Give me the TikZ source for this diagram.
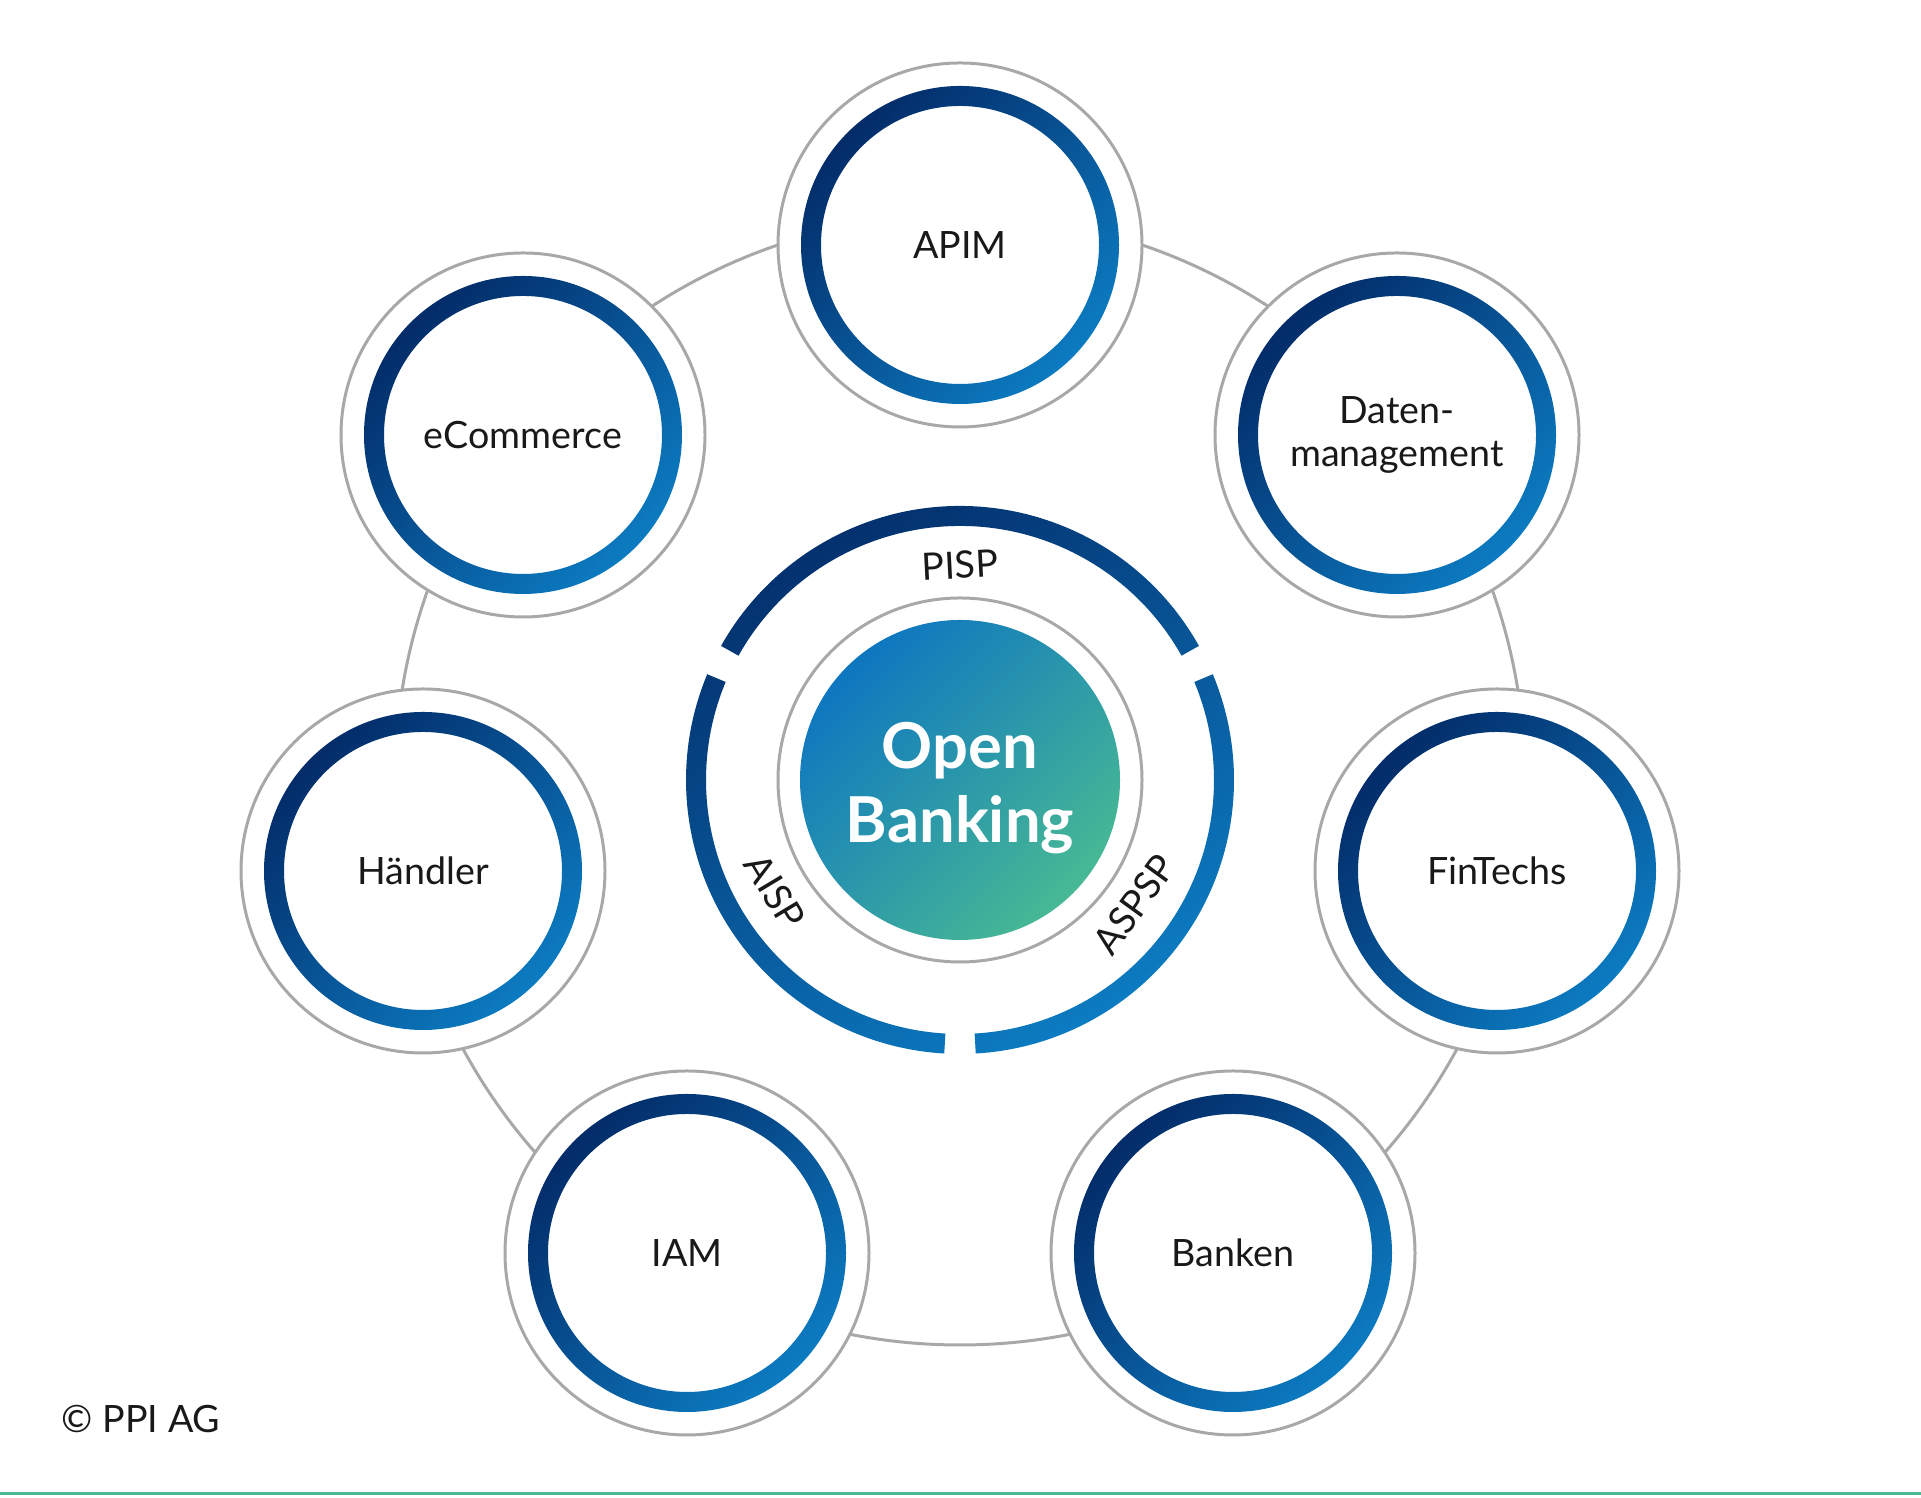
\documentclass[tikz,border=0pt]{standalone}
\usepackage{fontspec}
\setmainfont{Lato}
\usepackage{tikz}

\definecolor{ppinavy}{RGB}{3,44,105}
\definecolor{ppiblue}{RGB}{12,123,193}
\definecolor{obblue}{RGB}{14,118,192}
\definecolor{obgreen}{RGB}{72,185,148}
\definecolor{ringgray}{RGB}{168,168,168}

\tikzset{
	grayring/.style = {draw = ringgray, line width = 0.85pt},
	bluering/.style = {top color = ppinavy, bottom color = ppiblue, shading angle = 45, even odd rule},
	satlabel/.style = {font = \fontsize{10.7}{12.4}\selectfont, text = black!90, align = center},
	arclabel/.style = {satlabel, inner sep = 1pt},
}

\begin{document}
\begin{tikzpicture}[x = 0.01cm, y = 0.01cm]
\useasboundingbox (0,0) rectangle (1921,1498);
\coordinate (mid) at (960,718);

% outer gray orbit
\draw[grayring] (mid) circle (565);

\foreach \nm/\x/\y/\lbl in {apim/960/1253/APIM, daten/1397/1063/{Daten-\\management}, fintechs/1497/627/FinTechs, banken/1233/245/Banken, iam/687/245/IAM, haendler/423/627/Händler, ecommerce/523/1063/eCommerce}
{
	\filldraw[grayring, fill = white] (\x,\y) circle (182);
	\shade[bluering] (\x,\y) circle (159) (\x,\y) circle (139);
	\node[satlabel] (\nm) at (\x,\y) {\lbl};
}

% center
\filldraw[grayring, fill = white] (mid) circle (182);
\shade[top color = obblue, bottom color = obgreen, shading angle = 45] (mid) circle (160);
\node[font = \fontsize{18}{21}\selectfont\bfseries, text = white, align = center, inner sep = 1pt] (open) at (960,710) {Open\\Banking};

\begin{scope}[shift = {(mid)}]
\shade[top color = ppinavy, bottom color = ppiblue, shading angle = 30]
	\foreach \a/\b in {29.3/150.7, 157.3/266.7, 273.3/382.7} {
		(\a:274) arc[start angle = \a, end angle = \b, radius = 274] -- (\b:254) arc[start angle = \b, end angle = \a, radius = 254] -- cycle
	};
\node[arclabel, rotate = 3] (pisp) at (90:215) {PISP};
\node[arclabel, rotate = -59] (aisp) at (211:216) {AISP};
\node[arclabel, rotate = 54] (aspsp) at (-35.5:214) {ASPSP};
\end{scope}

\node[satlabel, anchor = base west, inner sep = 0pt] (copy) at (61,65) {© PPI AG};
\draw[obgreen, line width = 0.85pt] (0,4.5) -- (1921,4.5);
\end{tikzpicture}
\end{document}
